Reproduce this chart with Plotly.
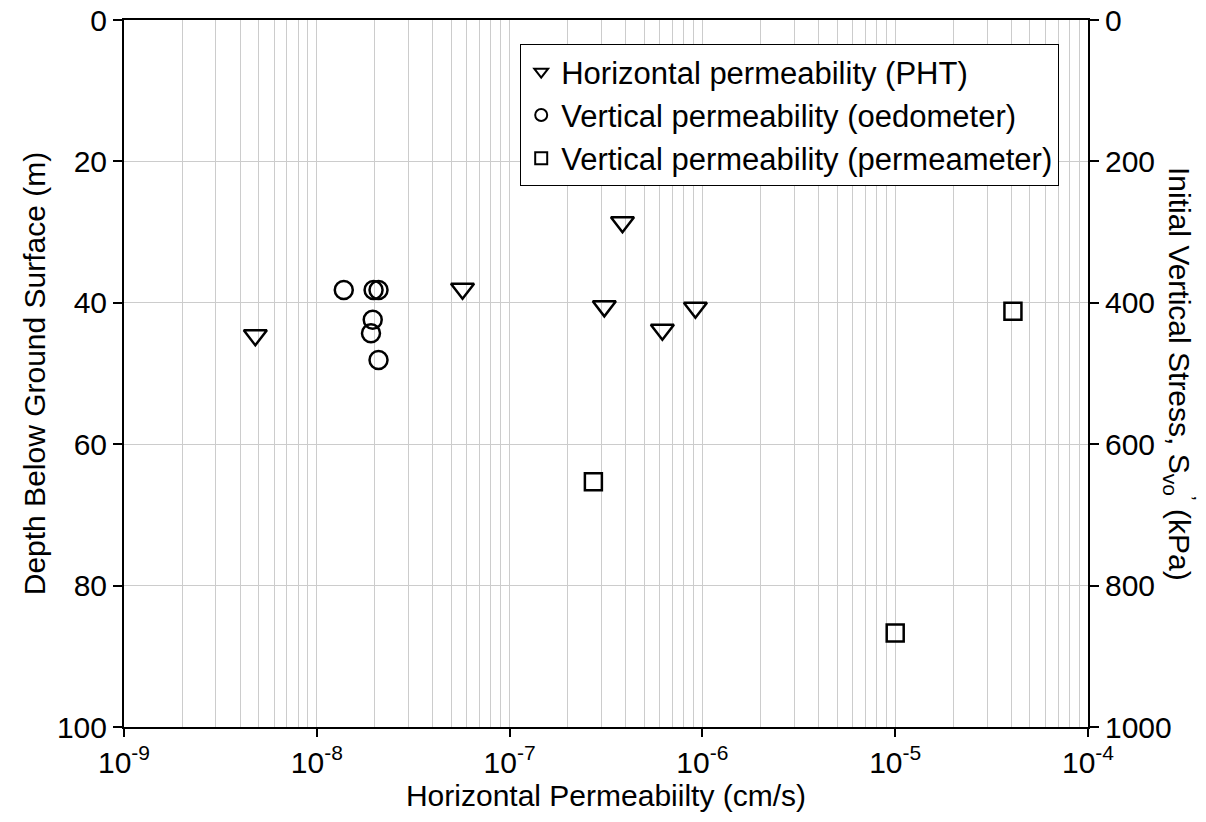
import plotly.graph_objects as go

FONT = "Liberation Sans, Arial, sans-serif"

# Horizontal permeability (PHT)
pht_k = [4.8e-9, 5.7e-8, 3.85e-7, 3.1e-7, 6.2e-7, 9.2e-7]
pht_depth = [44.6, 38.0, 28.6, 40.5, 43.8, 40.7]

# Vertical permeability (oedometer)
oed_k = [1.38e-8, 1.97e-8, 2.09e-8, 1.95e-8, 1.91e-8, 2.09e-8]
oed_depth = [38.2, 38.2, 38.2, 42.4, 44.3, 48.1]

# Vertical permeability (permeameter)
perm_k = [2.72e-7, 1.0e-5, 4.08e-5]
perm_depth = [65.3, 86.7, 41.2]

x_tickvals = [1e-9, 1e-8, 1e-7, 1e-6, 1e-5, 1e-4]
x_ticktext = ["10<sup>-9</sup>", "10<sup>-8</sup>", "10<sup>-7</sup>",
              "10<sup>-6</sup>", "10<sup>-5</sup>", "10<sup>-4</sup>"]
depth_ticks = [0, 20, 40, 60, 80, 100]
stress_ticks = [0, 200, 400, 600, 800, 1000]

fig = go.Figure()

mk_line = dict(color="black", width=2.5)
fig.add_trace(go.Scatter(
    x=pht_k, y=pht_depth, mode="markers", name="Horizontal permeability (PHT)",
    marker=dict(symbol="triangle-down-open", size=20, color="black", line=mk_line)))
fig.add_trace(go.Scatter(
    x=oed_k, y=oed_depth, mode="markers", name="Vertical permeability (oedometer)",
    marker=dict(symbol="circle-open", size=18, color="black", line=mk_line)))
fig.add_trace(go.Scatter(
    x=perm_k, y=perm_depth, mode="markers", name="Vertical permeability (permeameter)",
    marker=dict(symbol="square-open", size=17, color="black", line=mk_line)))
# invisible trace to anchor the secondary (stress) axis
fig.add_trace(go.Scatter(
    x=[x_tickvals[0]], y=[stress_ticks[0]], yaxis="y2", mode="markers",
    marker=dict(opacity=0), showlegend=False, hoverinfo="skip"))

grid = "#cccccc"
TICK = 30
TITLE = 30
fig.update_layout(
    width=1206, height=822,
    margin=dict(l=124, r=118, t=20, b=95, autoexpand=False),
    paper_bgcolor="white", plot_bgcolor="white",
    font=dict(family=FONT, size=TICK, color="black"),
    showlegend=True,
    legend=dict(
        x=0.411, y=0.966, xanchor="left", yanchor="top",
        bgcolor="white", bordercolor="black", borderwidth=1,
        font=dict(family=FONT, size=31, color="black"),
        itemsizing="constant", tracegroupgap=0,
    ),
    xaxis=dict(
        type="log", range=[-9, -4], automargin=False,
        tickmode="array", tickvals=x_tickvals, ticktext=x_ticktext,
        ticks="outside", ticklen=8, tickwidth=1.5, tickcolor="black",
        showline=True, linecolor="black", linewidth=2, mirror=True,
        showgrid=True, gridcolor=grid, gridwidth=1,
        minor=dict(dtick="D1", showgrid=True, gridcolor=grid, gridwidth=1, ticks=""),
        title=dict(text="Horizontal Permeabiilty (cm/s)", font=dict(size=TITLE), standoff=4),
        tickfont=dict(size=TICK),
        zeroline=False,
    ),
    yaxis=dict(
        range=[100, 0], tickmode="array", tickvals=depth_ticks, automargin=False,
        ticks="outside", ticklen=9, tickwidth=1.5, tickcolor="black",
        showline=True, linecolor="black", linewidth=2,
        showgrid=True, gridcolor=grid, gridwidth=1,
        title=dict(text="Depth Below Ground Surface (m)", font=dict(size=TITLE), standoff=2),
        tickfont=dict(size=TICK), zeroline=False,
    ),
    yaxis2=dict(
        overlaying="y", side="right", range=[1000, 0], automargin=False,
        tickmode="array", tickvals=stress_ticks,
        ticks="outside", ticklen=9, tickwidth=1.5, tickcolor="black",
        showline=True, linecolor="black", linewidth=2,
        showgrid=False, zeroline=False, tickfont=dict(size=TICK),
    ),
)

fig.add_annotation(
    text="Initial Vertical Stress, S<sub>vo</sub><sup>’</sup> (kPa)",
    xref="paper", yref="paper", x=1.096, y=0.5,
    xanchor="center", yanchor="middle", textangle=90,
    showarrow=False, font=dict(family=FONT, size=TITLE, color="black"),
)

fig.write_html("out.html")
